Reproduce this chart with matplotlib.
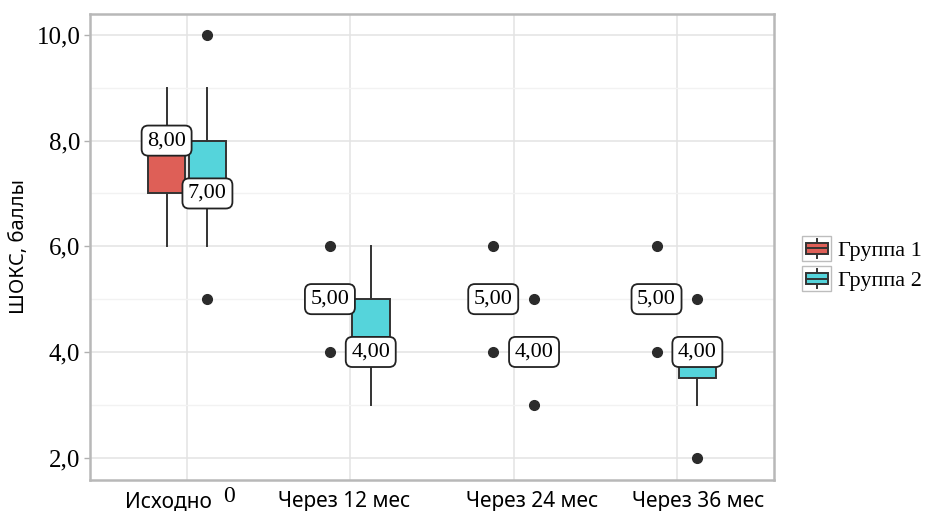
import matplotlib
matplotlib.use('Agg')
import matplotlib.pyplot as plt
from matplotlib.patches import Rectangle
from matplotlib.lines import Line2D
from matplotlib.legend_handler import HandlerBase
from matplotlib.ticker import MultipleLocator, FuncFormatter

# Визиты и группы
periods = ['Исходно', 'Через 12 мес', 'Через 24 мес', 'Через 36 мес']
groups = ['Группа 1', 'Группа 2']

# Статистики боксплотов: [группа][визит]
g1_q1 = [7, 5, 5, 5]
g1_med = [8, 5, 5, 5]
g1_q3 = [8, 5, 5, 5]
g1_lo = [6, 5, 5, 5]
g1_hi = [9, 5, 5, 5]
g1_out = [[], [6, 4], [6, 4], [6, 4]]

g2_q1 = [7, 4, 4, 3.5]
g2_med = [7, 4, 4, 4]
g2_q3 = [8, 5, 4, 4]
g2_lo = [6, 3, 4, 3]
g2_hi = [9, 6, 4, 4]
g2_out = [[10, 5], [], [5, 3], [5, 2]]

colors = ['#de5f57', '#55d4db']
SERIF = ['Liberation Serif', 'DejaVu Serif']
SANS = ['Noto Sans', 'DejaVu Sans']


class BoxHandler(HandlerBase):
    def __init__(self, color):
        super().__init__()
        self.color = color

    def create_artists(self, legend, orig_handle, xdescent, ydescent,
                       width, height, fontsize, trans):
        x0, y0 = -xdescent, -ydescent
        bg = Rectangle((x0, y0), width, height, fc='white', ec='#bdbdbd',
                       lw=1.0, transform=trans)
        cx = x0 + width / 2
        wh = Line2D([cx, cx], [y0 + height * 0.1, y0 + height * 0.9],
                    color='#333333', lw=1.4, transform=trans)
        box = Rectangle((x0 + width * 0.12, y0 + height * 0.27),
                        width * 0.76, height * 0.46, fc=self.color,
                        ec='#333333', lw=1.4, transform=trans)
        med = Line2D([x0 + width * 0.12, x0 + width * 0.88],
                     [y0 + height / 2] * 2, color='#333333', lw=1.4,
                     transform=trans)
        return [bg, wh, box, med]


fig = plt.figure(figsize=(9.28, 5.11), dpi=100)
ax = fig.add_axes([0.097, 0.061, 0.737, 0.912])

stats = [(g1_q1, g1_med, g1_q3, g1_lo, g1_hi, g1_out),
         (g2_q1, g2_med, g2_q3, g2_lo, g2_hi, g2_out)]
offsets = [-0.125, 0.125]
box_w = 0.23

for gi, (q1, med, q3, lo, hi, out) in enumerate(stats):
    bstats = []
    for i in range(len(periods)):
        bstats.append(dict(q1=q1[i], med=med[i], q3=q3[i],
                           whislo=lo[i], whishi=hi[i], fliers=out[i]))
    pos = [i + 1 + offsets[gi] for i in range(len(periods))]
    ax.bxp(bstats, positions=pos, widths=box_w, patch_artist=True,
           showcaps=False, manage_ticks=False,
           boxprops=dict(facecolor=colors[gi], edgecolor='#333333', lw=1.4),
           medianprops=dict(color='#333333', lw=1.4),
           whiskerprops=dict(color='#333333', lw=1.4),
           flierprops=dict(marker='o', markersize=7, markerfacecolor='#2b2b2b',
                           markeredgecolor='#2b2b2b'),
           zorder=3)
    for i, m in enumerate(med):
        ax.text(pos[i], m, f'{m:.2f}'.replace('.', ','), ha='center', va='center',
                family=SERIF, fontsize=16, zorder=5,
                bbox=dict(boxstyle='round,pad=0.25,rounding_size=0.3', fc='white',
                          ec='#222222', lw=1.3))

ax.set_xlim(0.406, 4.594)
ax.set_ylim(1.58, 10.4)
ax.yaxis.set_major_locator(MultipleLocator(2))
ax.yaxis.set_minor_locator(MultipleLocator(1))
ax.yaxis.set_major_formatter(FuncFormatter(lambda v, p: f'{v:.1f}'.replace('.', ',')))
ax.set_xticks(range(1, len(periods) + 1))
ax.set_xticklabels([])
ax.tick_params(axis='x', length=0)
ax.tick_params(axis='y', which='major', length=4, color='#b0b0b0', width=1,
               labelsize=18, pad=3)
ax.tick_params(axis='y', which='minor', length=0)
for lab in ax.get_yticklabels():
    lab.set_family(SERIF)

ax.grid(True, which='major', color='#e3e3e3', lw=1.1, zorder=0)
ax.grid(True, which='minor', axis='y', color='#f2f2f2', lw=1.0, zorder=0)
ax.set_axisbelow(True)
for sp in ax.spines.values():
    sp.set_color('#b8b8b8')
    sp.set_linewidth(1.8)

ax.set_ylabel('ШОКС, баллы', family=SANS, fontsize=14.5, labelpad=5)

# подписи визитов под осью
label_x = [0.884, 1.961, 3.113, 4.13]
for x, name in zip(label_x, periods):
    ax.text(x, -0.047, name, transform=ax.get_xaxis_transform(), ha='center',
            va='center', family=SANS, fontsize=15)
ax.text(1.255, -0.035, '0', transform=ax.get_xaxis_transform(), ha='center',
        va='center', family=SERIF, fontsize=17)

handles = [Rectangle((0, 0), 1, 1, color=c) for c in colors]
leg = fig.legend(handles, groups, loc='center left', bbox_to_anchor=(0.862, 0.484),
                 frameon=False, prop={'family': SERIF, 'size': 16},
                 handler_map={handles[0]: BoxHandler(colors[0]),
                              handles[1]: BoxHandler(colors[1])},
                 handlelength=1.3, handleheight=1.3, handletextpad=0.3,
                 labelspacing=0.25, borderaxespad=0.0, borderpad=0.1)

fig.savefig('out.png', dpi=100)
